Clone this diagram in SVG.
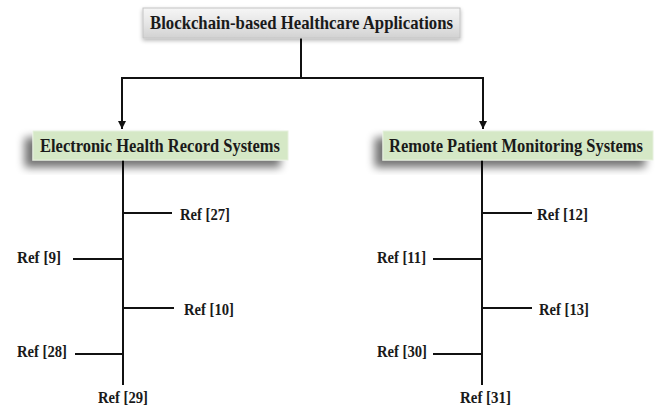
<svg xmlns="http://www.w3.org/2000/svg" width="659" height="411" viewBox="0 0 659 411">
<style>
.t{font-family:"Liberation Serif","Times New Roman",serif;font-weight:bold;fill:#1a1a1a}
.h{font-size:19px}
.r{font-size:16.5px}
.ln{stroke:#111;stroke-width:2;fill:none}
.gb{fill:#d5e8c6;stroke:#e6f0dd;stroke-width:1}
</style>
<defs>
<linearGradient id="gray" x1="0" y1="0" x2="0" y2="1">
<stop offset="0" stop-color="#f6f6f6"/>
<stop offset="0.5" stop-color="#e6e6e6"/>
<stop offset="1" stop-color="#d2d2d2"/>
</linearGradient>
<filter id="sh" x="-20%" y="-50%" width="140%" height="200%">
<feGaussianBlur in="SourceAlpha" stdDeviation="4"/>
<feOffset dx="-8" dy="7" result="b"/>
<feComponentTransfer><feFuncA type="linear" slope="0.55"/></feComponentTransfer>
<feMerge><feMergeNode/><feMergeNode in="SourceGraphic"/></feMerge>
</filter>
<filter id="sh2" x="-10%" y="-50%" width="120%" height="200%">
<feGaussianBlur in="SourceAlpha" stdDeviation="2"/>
<feOffset dx="0" dy="2"/>
<feComponentTransfer><feFuncA type="linear" slope="0.3"/></feComponentTransfer>
<feMerge><feMergeNode/><feMergeNode in="SourceGraphic"/></feMerge>
</filter>
<marker id="ar" viewBox="0 0 10 10" refX="10" refY="5" markerWidth="4" markerHeight="4" orient="auto" markerUnits="strokeWidth">
<path d="M0,0 L10,5 L0,10 z" fill="#111"/>
</marker>
</defs>
<g id="connectors">
<line class="ln" x1="301" y1="38" x2="301" y2="78"/>
<line class="ln" x1="121" y1="78" x2="484" y2="78"/>
<line class="ln" x1="122" y1="77" x2="122" y2="129" marker-end="url(#ar)"/>
<line class="ln" x1="483" y1="77" x2="483" y2="129" marker-end="url(#ar)"/>
<line class="ln" x1="123" y1="160" x2="123" y2="385"/>
<line class="ln" x1="123" y1="213" x2="172" y2="213"/>
<line class="ln" x1="73" y1="259" x2="123" y2="259"/>
<line class="ln" x1="123" y1="308" x2="174" y2="308"/>
<line class="ln" x1="75" y1="354" x2="123" y2="354"/>
<line class="ln" x1="482" y1="160" x2="482" y2="385"/>
<line class="ln" x1="482" y1="213" x2="532" y2="213"/>
<line class="ln" x1="433" y1="259" x2="482" y2="259"/>
<line class="ln" x1="482" y1="308" x2="532" y2="308"/>
<line class="ln" x1="433" y1="354" x2="482" y2="354"/>
</g>
<g id="root">
<rect x="143" y="8" width="317" height="30" fill="url(#gray)" stroke="#c4c4c4" stroke-width="1" filter="url(#sh2)"/>
<text class="t h" x="150" y="29" textLength="303" lengthAdjust="spacingAndGlyphs">Blockchain-based Healthcare Applications</text>
</g>
<g id="ehr">
<rect class="gb" x="33" y="131" width="255" height="29" filter="url(#sh)"/>
<text class="t h" x="40" y="152" textLength="240" lengthAdjust="spacingAndGlyphs">Electronic Health Record Systems</text>
</g>
<g id="rpm">
<rect class="gb" x="383" y="131" width="270" height="29" filter="url(#sh)"/>
<text class="t h" x="389" y="152" textLength="254" lengthAdjust="spacingAndGlyphs">Remote Patient Monitoring Systems</text>
</g>
<g id="ref27"><text class="t r" x="180" y="220" textLength="50" lengthAdjust="spacingAndGlyphs">Ref [27]</text></g>
<g id="ref9"><text class="t r" x="17" y="263" textLength="44" lengthAdjust="spacingAndGlyphs">Ref [9]</text></g>
<g id="ref10"><text class="t r" x="184" y="315" textLength="50" lengthAdjust="spacingAndGlyphs">Ref [10]</text></g>
<g id="ref28"><text class="t r" x="17" y="357" textLength="50" lengthAdjust="spacingAndGlyphs">Ref [28]</text></g>
<g id="ref29"><text class="t r" x="98" y="403" textLength="50" lengthAdjust="spacingAndGlyphs">Ref [29]</text></g>
<g id="ref12"><text class="t r" x="537" y="220" textLength="51" lengthAdjust="spacingAndGlyphs">Ref [12]</text></g>
<g id="ref11"><text class="t r" x="377" y="263" textLength="49" lengthAdjust="spacingAndGlyphs">Ref [11]</text></g>
<g id="ref13"><text class="t r" x="539" y="315" textLength="50" lengthAdjust="spacingAndGlyphs">Ref [13]</text></g>
<g id="ref30"><text class="t r" x="377" y="357" textLength="50" lengthAdjust="spacingAndGlyphs">Ref [30]</text></g>
<g id="ref31"><text class="t r" x="460" y="403" textLength="51" lengthAdjust="spacingAndGlyphs">Ref [31]</text></g>
</svg>
